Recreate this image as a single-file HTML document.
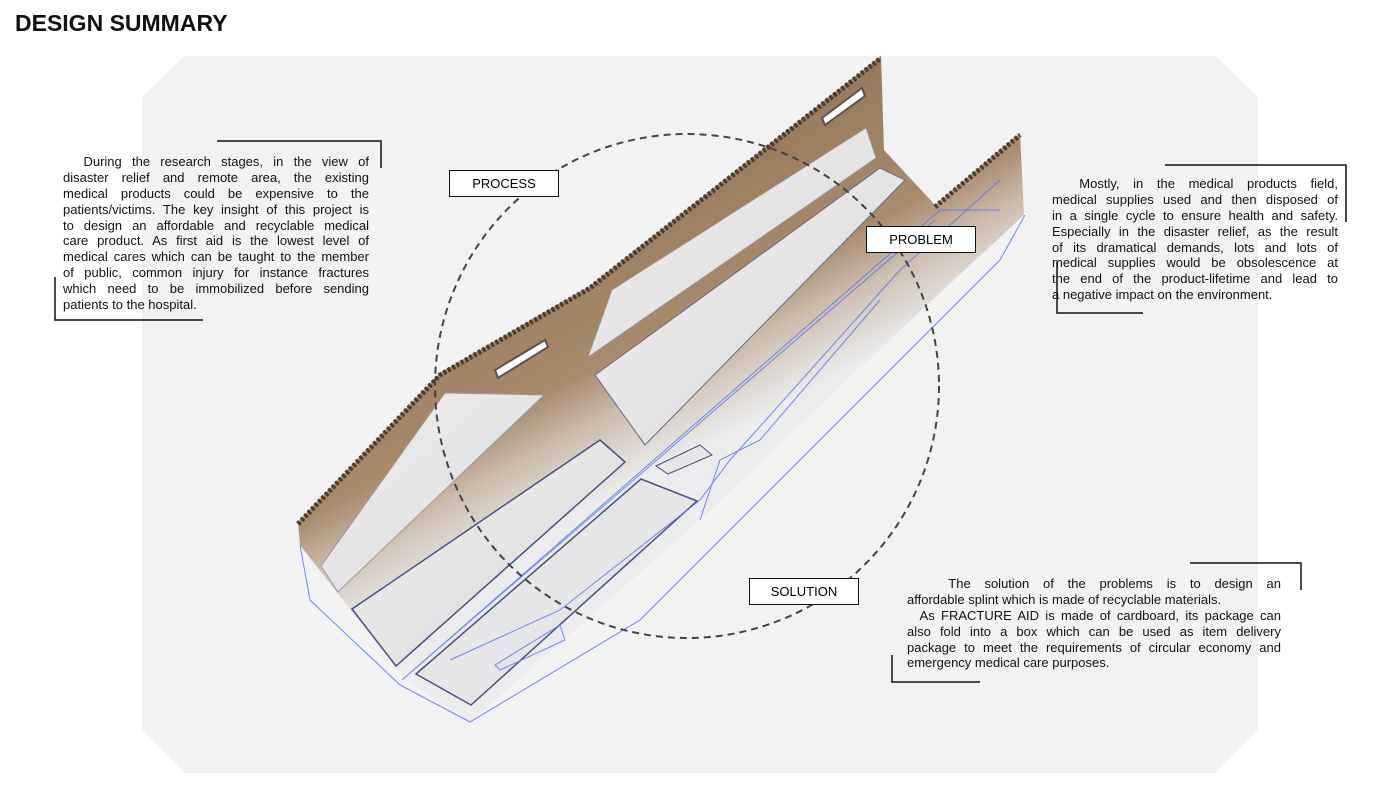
<!DOCTYPE html>
<html><head><meta charset="utf-8"><style>
body{margin:0;width:1400px;height:788px;background:#fff;position:relative;overflow:hidden;font-family:"Liberation Sans",sans-serif;}
svg{position:absolute;left:0;top:0}
.t{position:absolute;font-size:13px;color:#111;line-height:15.9px;}
.t div{text-align:justify;text-align-last:justify;white-space:nowrap;height:15.9px}
.t div.l{text-align-last:left}
.lab{position:absolute;border:1.5px solid #111;background:#fff;font-size:13px;text-align:center;line-height:25px;height:25px;box-sizing:content-box}
</style></head><body>
<svg width="1400" height="788">
<defs>
<linearGradient id="g" x1="505" y1="247" x2="630" y2="485" gradientUnits="userSpaceOnUse">
<stop offset="0" stop-color="#96785a"/><stop offset="0.55" stop-color="#a88a6c"/><stop offset="0.75" stop-color="#cdbfb0"/><stop offset="1" stop-color="#ececee"/></linearGradient>
<linearGradient id="p" x1="0" y1="0" x2="1" y2="1"><stop offset="0" stop-color="#f2f2f2"/><stop offset="1" stop-color="#d6d6d8"/></linearGradient>
</defs>
<polygon points="185,56 1215,56 1258,97 1258,730 1215,773 185,773 142,730 142,97" fill="#f2f2f2"/>
<!-- tray body -->
<polygon points="298,522 440,373 590,286 881,56 884,150 935,205 1020,133 1024,215 900,330 700,520 470,722 405,680 300,545" fill="url(#g)"/>
<!-- cardboard edges -->
<polyline points="298,524 440,375 590,288 881,58" fill="none" stroke="#4a3c2e" stroke-width="5" stroke-dasharray="3 2"/>
<polyline points="935,207 1020,135" fill="none" stroke="#4a3c2e" stroke-width="5" stroke-dasharray="3 2"/>
<!-- panels -->
<polygon points="588,357 612,290 866,128 876,158" fill="url(#p)" stroke="#999" stroke-width="0.8"/>
<polygon points="595,375 880,168 905,180 645,445" fill="url(#p)" stroke="#6a6a80" stroke-width="1"/>
<polygon points="445,393 544,395 338,592 321,566" fill="url(#p)" stroke="#9a9aa8" stroke-width="1"/>
<polygon points="352,609 600,440 625,462 396,666" fill="url(#p)" stroke="#4a5080" stroke-width="1.5"/>
<polygon points="416,674 641,479 697,501 471,705" fill="#e6e6e8" stroke="#4a5080" stroke-width="1.5"/>
<polygon points="656,466 700,445 712,455 668,474" fill="#e6e6e8" stroke="#4a5080" stroke-width="1"/>
<!-- handle holes -->
<polygon points="495,370 545,340 548,347 498,378" fill="#fff" stroke="#555" stroke-width="2"/>
<polygon points="822,118 862,88 865,96 825,125" fill="#fff" stroke="#555" stroke-width="2"/>
<!-- blue wireframe -->
<g fill="none" stroke="#5b78ee" stroke-width="1" opacity="0.85">
<polyline points="300,545 310,600 400,685 470,722 640,620 1000,260 1025,215"/>
<polyline points="402,680 940,210 1000,210"/>
<polyline points="410,673 935,220"/>
<polyline points="450,660 560,610 700,500 730,460 900,270 1000,180"/>
<polyline points="495,665 560,625 565,640 500,670 495,665"/>
<polyline points="700,520 720,460 760,440 880,300"/>
</g>
<!-- dashed circle -->
<circle cx="687" cy="386" r="252" fill="none" stroke="#444" stroke-width="2" stroke-dasharray="7 5"/>
<!-- brackets -->
<g fill="none" stroke="#111" stroke-width="1.5">
<polyline points="217,141 381,141 381,168"/>
<polyline points="55,277 55,320 203,320"/>
<polyline points="1165,165 1346,165 1346,222"/>
<polyline points="1057,262 1057,313 1143,313"/>
<polyline points="1190,563 1301,563 1301,590"/>
<polyline points="892,655 892,682 980,682"/>
</g>
</svg>
<div style="position:absolute;left:15px;top:10px;font-size:23px;font-weight:bold;color:#111">DESIGN SUMMARY</div>
<div class="lab" style="left:449px;top:170px;width:108px">PROCESS</div>
<div class="lab" style="left:866px;top:226px;width:108px">PROBLEM</div>
<div class="lab" style="left:749px;top:578px;width:108px">SOLUTION</div>
<div class="t" style="left:63px;top:154px;width:306px">
<div>&nbsp;&nbsp;During the research stages, in the view of</div>
<div>disaster relief and remote area, the existing</div>
<div>medical products could be expensive to the</div>
<div>patients/victims. The key insight of this project is</div>
<div>to design an affordable and recyclable medical</div>
<div>care product. As first aid is the lowest level of</div>
<div>medical cares which can be taught to the member</div>
<div>of public, common injury for instance fractures</div>
<div>which need to be immobilized before sending</div>
<div class="l">patients to the hospital.</div>
</div>
<div class="t" style="left:1052px;top:176px;width:286px">
<div>&nbsp;&nbsp;Mostly, in the medical products field,</div>
<div>medical supplies used and then disposed of</div>
<div>in a single cycle to ensure health and safety.</div>
<div>Especially in the disaster relief, as the result</div>
<div>of its dramatical demands, lots and lots of</div>
<div>medical supplies would be obsolescence at</div>
<div>the end of the product-lifetime and lead to</div>
<div class="l">a negative impact on the environment.</div>
</div>
<div class="t" style="left:907px;top:576px;width:374px">
<div>&nbsp;&nbsp;&nbsp;The solution of the problems is to design an</div>
<div class="l">affordable splint which is made of recyclable materials.</div>
<div>&nbsp;&nbsp;As FRACTURE AID is made of cardboard, its package can</div>
<div>also fold into a box which can be used as item delivery</div>
<div>package to meet the requirements of circular economy and</div>
<div class="l">emergency medical care purposes.</div>
</div>
</body></html>
